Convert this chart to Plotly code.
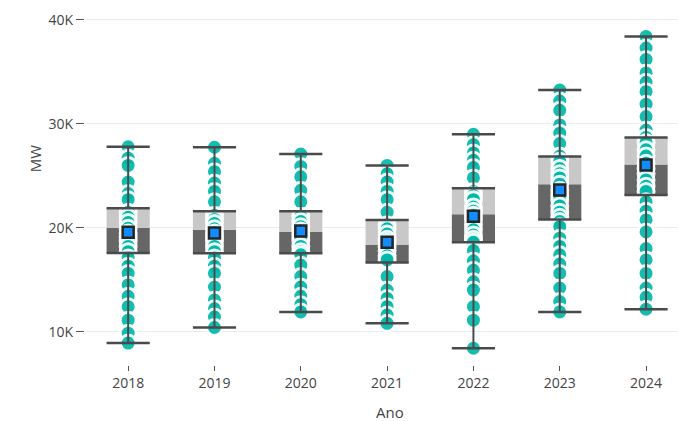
import plotly.graph_objects as go

# Annual demand distribution (MW)
years = ["2018", "2019", "2020", "2021", "2022", "2023", "2024"]

pts_2018 = [27800, 26700, 26000, 24400, 23300, 22700, 21500, 21000, 20500, 19950,
            19500, 19100, 18700, 18200, 17700, 17100, 16300, 15600, 14500, 13400,
            12400, 11100, 9850, 8900]
pts_2019 = [27750, 26200, 25400, 24300, 23500, 22500, 21200, 20800, 20400, 19900,
            19500, 19100, 18700, 18200, 17700, 17100, 16300, 15600, 14300, 13050,
            12200, 11400, 10400]
pts_2020 = [27100, 25900, 24900, 23600, 22500, 21100, 20600, 20100, 19700, 19300,
            18800, 18200, 17700, 17400, 16400, 15300, 14300, 13400, 12600, 11900]
pts_2021 = [26000, 25200, 24400, 23500, 22700, 21500, 20300, 19900, 19400, 18900,
            18600, 18200, 17800, 17300, 16900, 15300, 14000, 13200, 12400, 11600,
            10800]
pts_2022 = [29000, 28000, 27200, 26500, 25800, 24800, 23500, 23100, 22700, 22000,
            21600, 21200, 20800, 20300, 19800, 19300, 18900, 18600, 17800, 16800,
            15900, 14800, 14000, 12400, 11100, 8400]
pts_2023 = [33250, 32200, 31300, 29900, 29100, 28100, 26900, 26400, 25700, 25200,
            24800, 24200, 23600, 23100, 22700, 22100, 21500, 21000, 20600, 20100,
            19000, 18200, 17400, 16500, 15600, 14200, 12900, 11900]
pts_2024 = [38400, 37300, 36200, 34900, 34000, 33100, 31900, 30700, 29400, 28700,
            28200, 27500, 26900, 26200, 25700, 25200, 24600, 24000, 23500, 22500,
            21600, 20750, 19600, 18000, 16900, 15600, 14200, 13300, 12160]
points = [pts_2018, pts_2019, pts_2020, pts_2021, pts_2022, pts_2023, pts_2024]

# Box statistics per year
q1 = [17570, 17550, 17550, 16650, 18600, 20800, 23160]
median = [20000, 19800, 19600, 18350, 21300, 24200, 26100]
q3 = [21880, 21600, 21600, 20750, 23800, 26850, 28700]
mean = [19570, 19500, 19700, 18600, 21100, 23640, 26050]
lo = [min(p) for p in points]
hi = [max(p) for p in points]

idx = list(range(len(years)))
half = 0.25
FONT = "Segoe UI, Open Sans, sans-serif"
TEAL = "#01B8AA"
EDGE = "#4a4a4a"

fig = go.Figure()

# lower half of box (Q1 -> median)
fig.add_trace(go.Bar(x=idx, y=[m - a for m, a in zip(median, q1)], base=q1,
                     width=2 * half, marker=dict(color="#666666", line=dict(width=0))))
# upper half of box (median -> Q3)
fig.add_trace(go.Bar(x=idx, y=[b - m for b, m in zip(q3, median)], base=median,
                     width=2 * half, marker=dict(color="#c8c8c8", line=dict(width=0))))

# individual values
px, py = [], []
for i, vals in zip(idx, points):
    px += [i] * len(vals)
    py += vals
fig.add_trace(go.Scatter(x=px, y=py, mode="markers",
                         marker=dict(color=TEAL, size=16, opacity=0.92,
                                     line=dict(color="white", width=3))))

# whiskers
wx, wy = [], []
for i in idx:
    wx += [i, i, None, i, i, None]
    wy += [hi[i], q3[i], None, q1[i], lo[i], None]
fig.add_trace(go.Scatter(x=wx, y=wy, mode="lines", line=dict(color=EDGE, width=2)))

# caps and box top/bottom edges
cx, cy = [], []
for i in idx:
    for v in (hi[i], lo[i], q3[i], q1[i]):
        cx += [i - half, i + half, None]
        cy += [v, v, None]
fig.add_trace(go.Scatter(x=cx, y=cy, mode="lines", line=dict(color=EDGE, width=2.5)))

# mean markers
fig.add_trace(go.Scatter(x=idx, y=mean, mode="markers",
                         marker=dict(symbol="square", color="#118DFF", size=11,
                                     line=dict(color="#252525", width=2.5))))

fig.update_layout(
    width=678, height=421,
    margin=dict(l=85, r=0, t=15, b=56),
    paper_bgcolor="white", plot_bgcolor="white",
    showlegend=False, barmode="overlay", hovermode=False,
    font=dict(family=FONT, size=14, color="#444444"),
)
fig.update_xaxes(
    range=[-0.5, 6.37], tickmode="array", tickvals=idx, ticktext=years,
    showgrid=False, zeroline=False, showline=False,
    ticks="outside", ticklen=5, tickcolor="#555555", tickwidth=1,
    tickfont=dict(family=FONT, size=14, color="#444444"),
)
fig.update_yaxes(
    range=[6790, 40480], tickmode="array",
    tickvals=[10000, 20000, 30000, 40000], ticktext=["10K", "20K", "30K", "40K"],
    showgrid=True, gridcolor="#ebebeb", gridwidth=1, zeroline=False, showline=False,
    ticks="outside", ticklen=8, tickcolor="#555555", tickwidth=1,
    tickfont=dict(family=FONT, size=14, color="#444444"),
)
fig.add_annotation(text="MW", xref="paper", yref="paper", x=-0.105, y=0.59,
                   textangle=-90, showarrow=False,
                   font=dict(family=FONT, size=15, color="#444444"))
fig.add_annotation(text="Ano", xref="paper", yref="paper", x=0.515, y=-0.135,
                   showarrow=False, yanchor="middle",
                   font=dict(family=FONT, size=15, color="#444444"))

fig.write_html("out.html")
